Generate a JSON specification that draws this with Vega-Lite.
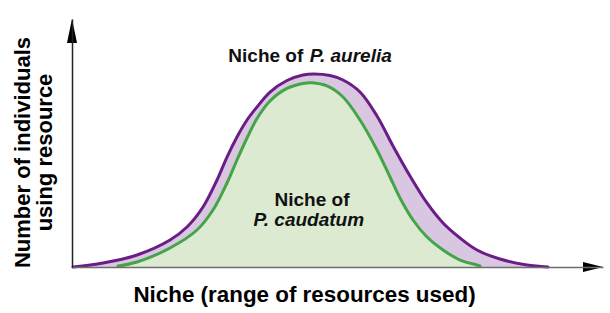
{
  "$schema": "https://vega.github.io/schema/vega-lite/v6.json",
  "width": 531,
  "height": 248,
  "autosize": "none",
  "padding": {"left": 72, "top": 19, "right": 7, "bottom": 46},
  "background": "white",
  "config": {"view": {"stroke": null}},
  "datasets": {
    "curves": [
      {"species": "P. aurelia", "x": 0.19, "y": 0},
      {"species": "P. aurelia", "x": 5.84, "y": 1.61},
      {"species": "P. aurelia", "x": 12.24, "y": 4.84},
      {"species": "P. aurelia", "x": 18.46, "y": 10.89},
      {"species": "P. aurelia", "x": 21.66, "y": 16.13},
      {"species": "P. aurelia", "x": 24.67, "y": 24.19},
      {"species": "P. aurelia", "x": 27.31, "y": 35.08},
      {"species": "P. aurelia", "x": 29.19, "y": 44.35},
      {"species": "P. aurelia", "x": 31.07, "y": 52.42},
      {"species": "P. aurelia", "x": 32.96, "y": 59.27},
      {"species": "P. aurelia", "x": 34.84, "y": 64.52},
      {"species": "P. aurelia", "x": 37.29, "y": 70.56},
      {"species": "P. aurelia", "x": 40.49, "y": 75.20},
      {"species": "P. aurelia", "x": 43.50, "y": 77.42},
      {"species": "P. aurelia", "x": 45.50, "y": 77.82},
      {"species": "P. aurelia", "x": 48.59, "y": 77.22},
      {"species": "P. aurelia", "x": 51.04, "y": 75.41},
      {"species": "P. aurelia", "x": 54.24, "y": 70.56},
      {"species": "P. aurelia", "x": 57.44, "y": 60.89},
      {"species": "P. aurelia", "x": 60.45, "y": 48.79},
      {"species": "P. aurelia", "x": 63.65, "y": 36.69},
      {"species": "P. aurelia", "x": 66.85, "y": 25.81},
      {"species": "P. aurelia", "x": 69.87, "y": 17.74},
      {"species": "P. aurelia", "x": 73.07, "y": 11.69},
      {"species": "P. aurelia", "x": 76.27, "y": 6.85},
      {"species": "P. aurelia", "x": 80.60, "y": 3.23},
      {"species": "P. aurelia", "x": 85.69, "y": 0.81},
      {"species": "P. aurelia", "x": 89.64, "y": 0},
      {"species": "P. caudatum", "x": 8.66, "y": 0.40},
      {"species": "P. caudatum", "x": 12.24, "y": 2.02},
      {"species": "P. caudatum", "x": 18.46, "y": 7.66},
      {"species": "P. caudatum", "x": 23.54, "y": 14.92},
      {"species": "P. caudatum", "x": 26.55, "y": 22.98},
      {"species": "P. caudatum", "x": 29.19, "y": 33.87},
      {"species": "P. caudatum", "x": 31.07, "y": 43.15},
      {"species": "P. caudatum", "x": 32.96, "y": 52.02},
      {"species": "P. caudatum", "x": 34.84, "y": 59.88},
      {"species": "P. caudatum", "x": 37.29, "y": 66.94},
      {"species": "P. caudatum", "x": 40.49, "y": 72.00},
      {"species": "P. caudatum", "x": 43.50, "y": 74.00},
      {"species": "P. caudatum", "x": 45.20, "y": 74.30},
      {"species": "P. caudatum", "x": 48.02, "y": 73.00},
      {"species": "P. caudatum", "x": 51.04, "y": 68.55},
      {"species": "P. caudatum", "x": 54.24, "y": 59.27},
      {"species": "P. caudatum", "x": 57.44, "y": 47.18},
      {"species": "P. caudatum", "x": 59.89, "y": 36.29},
      {"species": "P. caudatum", "x": 61.77, "y": 27.82},
      {"species": "P. caudatum", "x": 64.22, "y": 18.95},
      {"species": "P. caudatum", "x": 66.85, "y": 12.10},
      {"species": "P. caudatum", "x": 69.87, "y": 6.85},
      {"species": "P. caudatum", "x": 73.07, "y": 2.82},
      {"species": "P. caudatum", "x": 76.27, "y": 0.81},
      {"species": "P. caudatum", "x": 76.84, "y": 0.40}
    ],
    "labels": [
      {"part": "normal", "text": "Niche of", "x": 36.5, "y": 82.7},
      {"part": "italic", "text": "P. aurelia", "x": 52.5, "y": 82.7},
      {"part": "normal", "text": "Niche of", "x": 45.2, "y": 24.6},
      {"part": "italic", "text": "P. caudatum", "x": 44.6, "y": 16.5}
    ]
  },
  "layer": [
    {
      "data": {"name": "curves"},
      "transform": [{"filter": "datum.species === 'P. aurelia'"}],
      "mark": {"type": "area", "interpolate": "catmull-rom", "fill": "#d9c6e1", "stroke": null},
      "encoding": {
        "x": {
          "field": "x", "type": "quantitative",
          "scale": {"domain": [0, 100], "nice": false, "zero": false},
          "axis": {
            "title": "Niche (range of resources used)",
            "labels": false, "ticks": false, "grid": false,
            "domainColor": "#6e6e6e", "domainWidth": 1.5, "zindex": 1,
            "titleFont": "Liberation Sans", "titleFontSize": 22.4, "titleFontWeight": "bold",
            "titleColor": "#000000", "titleX": 232, "titleY": 34, "titleBaseline": "alphabetic"
          }
        },
        "y": {
          "field": "y", "type": "quantitative",
          "scale": {"domain": [0, 100], "nice": false, "zero": false},
          "axis": {
            "title": ["Number of individuals", "using resource"],
            "labels": false, "ticks": false, "grid": false,
            "domainColor": "#222222", "domainWidth": 1.5, "zindex": 1,
            "titleFont": "Liberation Sans", "titleFontSize": 22, "titleFontWeight": "bold",
            "titleColor": "#000000", "titleX": -43, "titleY": 133, "titleAngle": -90,
            "titleBaseline": "alphabetic", "titleLineHeight": 22
          }
        }
      }
    },
    {
      "data": {"name": "curves"},
      "transform": [{"filter": "datum.species === 'P. caudatum'"}],
      "mark": {"type": "area", "interpolate": "catmull-rom", "fill": "#dbead0", "stroke": null},
      "encoding": {
        "x": {"field": "x", "type": "quantitative"},
        "y": {"field": "y", "type": "quantitative"}
      }
    },
    {
      "data": {"name": "curves"},
      "transform": [{"filter": "datum.species === 'P. aurelia'"}],
      "mark": {"type": "line", "interpolate": "catmull-rom", "color": "#6b1d86", "strokeWidth": 3, "strokeCap": "round"},
      "encoding": {
        "x": {"field": "x", "type": "quantitative"},
        "y": {"field": "y", "type": "quantitative"}
      }
    },
    {
      "data": {"name": "curves"},
      "transform": [{"filter": "datum.species === 'P. caudatum'"}],
      "mark": {"type": "line", "interpolate": "catmull-rom", "color": "#44a548", "strokeWidth": 3, "strokeCap": "round"},
      "encoding": {
        "x": {"field": "x", "type": "quantitative"},
        "y": {"field": "y", "type": "quantitative"}
      }
    },
    {
      "data": {"values": [{"x": 0, "y": 100}]},
      "mark": {"type": "point", "shape": "M0,0L0.42,2L-0.42,2Z", "size": 576, "filled": true, "color": "#000000", "opacity": 1, "clip": false},
      "encoding": {
        "x": {"field": "x", "type": "quantitative"},
        "y": {"field": "y", "type": "quantitative"}
      }
    },
    {
      "data": {"values": [{"x": 100, "y": 0}]},
      "mark": {"type": "point", "shape": "M0,0L-2,-0.5L-2,0.5Z", "size": 400, "filled": true, "color": "#000000", "opacity": 1, "clip": false},
      "encoding": {
        "x": {"field": "x", "type": "quantitative"},
        "y": {"field": "y", "type": "quantitative"}
      }
    },
    {
      "data": {"name": "labels"},
      "transform": [{"filter": "datum.part === 'normal'"}],
      "mark": {"type": "text", "font": "Liberation Sans", "fontSize": 19, "fontWeight": "bold", "color": "#111111", "align": "center", "baseline": "alphabetic"},
      "encoding": {
        "x": {"field": "x", "type": "quantitative"},
        "y": {"field": "y", "type": "quantitative"},
        "text": {"field": "text"}
      }
    },
    {
      "data": {"name": "labels"},
      "transform": [{"filter": "datum.part === 'italic'"}],
      "mark": {"type": "text", "font": "Liberation Sans", "fontSize": 19, "fontWeight": "bold", "fontStyle": "italic", "color": "#111111", "align": "center", "baseline": "alphabetic"},
      "encoding": {
        "x": {"field": "x", "type": "quantitative"},
        "y": {"field": "y", "type": "quantitative"},
        "text": {"field": "text"}
      }
    }
  ]
}
